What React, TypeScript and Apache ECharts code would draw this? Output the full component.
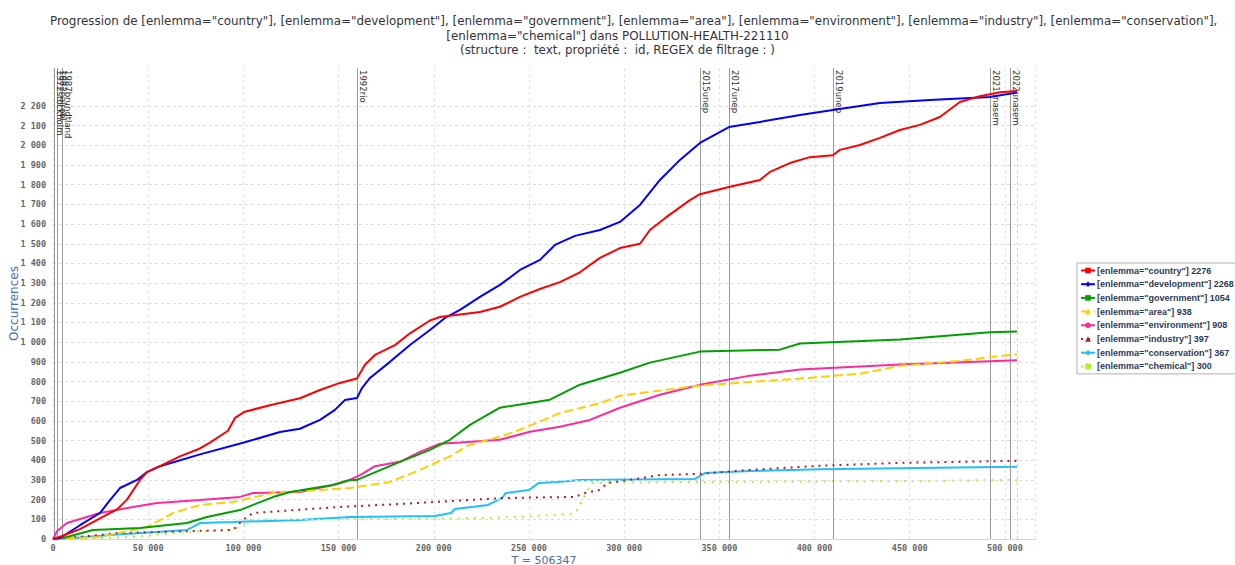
import React, { useEffect, useRef } from 'react';
import * as echarts from 'echarts';

const titleLines = [
  'Progression de [enlemma="country"], [enlemma="development"], [enlemma="government"], [enlemma="area"], [enlemma="environment"], [enlemma="industry"], [enlemma="conservation"],',
  '[enlemma="chemical"] dans POLLUTION-HEALTH-221110',
  '(structure :  text, propriété :  id, REGEX de filtrage : )',
];

const totalT = 506347;

const seriesNames = [
  '[enlemma="country"] 2276',
  '[enlemma="development"] 2268',
  '[enlemma="government"] 1054',
  '[enlemma="area"] 938',
  '[enlemma="environment"] 908',
  '[enlemma="industry"] 397',
  '[enlemma="conservation"] 367',
  '[enlemma="chemical"] 300',
];

const country = [
  [0, 0], [4730, 15], [14180, 50], [24680, 105], [33610, 150], [38860, 200], [45690, 300], [49370, 340],
  [56200, 370], [66700, 420], [77200, 460], [82460, 490], [91910, 550], [95590, 615], [100310, 645],
  [113970, 680], [129720, 715], [140230, 757], [150730, 793], [159660, 815], [163860, 885], [169110, 935],
  [179620, 985], [187500, 1045], [198000, 1110], [203250, 1128], [224260, 1153], [234770, 1180],
  [245270, 1230], [255770, 1270], [266270, 1305], [276780, 1355], [287290, 1428], [297790, 1478],
  [308290, 1500], [313550, 1570], [321420, 1630], [334550, 1722], [339810, 1752], [355570, 1790],
  [371320, 1824], [376570, 1865], [387070, 1910], [397580, 1940], [409660, 1950], [413330, 1977],
  [423840, 2002], [434340, 2038], [444840, 2078], [455350, 2104], [465850, 2144], [476350, 2220],
  [486860, 2250], [497360, 2270], [506347, 2276],
];

const development = [
  [0, 0], [3700, 5], [14180, 70], [24680, 132], [29940, 198], [35190, 259], [44120, 300], [49370, 340],
  [56200, 370], [77200, 430], [100310, 490], [119220, 544], [129720, 560], [140230, 605], [148110, 656],
  [153360, 706], [159660, 716], [162290, 767], [166490, 818], [176990, 900], [187500, 986], [198000, 1062],
  [205880, 1123], [213760, 1164], [224260, 1230], [234770, 1291], [245270, 1367], [255770, 1418],
  [263650, 1494], [274150, 1540], [287290, 1570], [297790, 1611], [308290, 1697], [318800, 1824],
  [329300, 1926], [339810, 2012], [355040, 2093], [371320, 2119], [392330, 2154], [409660, 2180],
  [434340, 2215], [460600, 2231], [492110, 2246], [506347, 2268],
];

const government = [
  [0, 0], [7350, 10], [21010, 46], [45690, 56], [70380, 81], [80880, 112], [98210, 147], [115540, 213],
  [124470, 239], [147060, 274], [155980, 300], [159660, 300], [182240, 392], [198000, 453], [208500, 504],
  [219010, 580], [234770, 667], [261020, 708], [276780, 784], [297790, 845], [313550, 896], [339810, 952],
  [381820, 962], [392330, 993], [444840, 1013], [492110, 1050], [506347, 1054],
];

const area = [
  [0, 0], [24680, 10], [49370, 61], [63020, 132], [77200, 173], [94540, 188], [115540, 234], [155980, 259],
  [176990, 290], [192740, 351], [208500, 420], [219010, 479], [235000, 520], [245270, 555], [266270, 640],
  [287290, 690], [297790, 728], [339810, 780], [392330, 815], [423840, 840], [444840, 880], [476350, 905],
  [497360, 930], [506347, 938],
];

const environment = [
  [0, 0], [2100, 40], [4730, 61], [7350, 81], [24680, 132], [42020, 163], [54620, 183], [77200, 198],
  [98210, 214], [105040, 234], [129720, 239], [147060, 274], [155980, 300], [162290, 330], [169110, 370],
  [182240, 392], [192740, 443], [203250, 484], [213760, 490], [234770, 504], [250520, 545], [266270, 570],
  [282030, 605], [297790, 667], [318800, 733], [339810, 784], [366070, 830], [392330, 861], [423840, 876],
  [444840, 886], [506347, 908],
];

const industry = [
  [0, 0], [24680, 20], [33610, 30], [94540, 46], [99790, 97], [105040, 132], [112390, 137], [150730, 163],
  [182240, 178], [200630, 188], [235820, 208], [274150, 214], [279400, 234], [286760, 249], [291490, 285],
  [306190, 305], [318800, 325], [339810, 331], [366070, 351], [402830, 372], [444840, 387], [506347, 397],
];

const conservation = [
  [0, 0], [7350, 2], [29940, 20], [70380, 46], [77200, 81], [94540, 86], [129720, 97], [155980, 112],
  [200630, 117], [209030, 132], [211130, 152], [228460, 173], [235820, 208], [237920, 234], [249990, 249],
  [255250, 285], [264700, 290], [276780, 300], [337180, 305], [342430, 335], [366070, 345], [402830, 355],
  [506347, 367],
];

const chemical = [
  [0, 0], [24680, 5], [42020, 10], [70380, 36], [94540, 46], [101890, 81], [103460, 97], [155980, 100],
  [211130, 104], [245270, 112], [274150, 130], [283080, 285], [300000, 288], [453770, 295], [506347, 300],
];

const eventNames = [
  '1972stockholm', '1982nairobi', '1987brundtland', '1992rio', '2015unep',
  '2017unep', '2019unep', '2021unasem', '2022unasem',
];
const eventPositions = [500, 2100, 4700, 159660, 339810, 355040, 409660, 492110, 502610];

const yGridTicks = [
  0, 100, 200, 300, 400, 500, 600, 700, 800, 900, 1000, 1100, 1200, 1300, 1400, 1500, 1600,
  1700, 1800, 1900, 2000, 2100, 2200,
];

const seriesData = [country, development, government, area, environment, industry, conservation, chemical];
const colors = ['#ff0000', '#0000ff', '#00a000', '#ffd000', '#ff2a9a', '#b02020', '#1ec0ff', '#a8f030'];
const lineTypes: any[] = ['solid', 'solid', 'solid', [9, 4], 'solid', [2, 5], 'solid', [2, 6]];
const symbols = ['rect', 'diamond', 'rect', 'triangle', 'circle', 'triangle', 'diamond', 'rect'];

const X_MAX = 515800;
const Y_MAX = 2393;

function fmt(v: number) {
  return String(Math.round(v)).replace(/\B(?=(\d{3})+(?!\d))/g, ' ');
}

export default function App() {
  const ref = useRef<HTMLDivElement>(null);
  useEffect(() => {
    if (!ref.current) return;
    const chart = echarts.init(ref.current, undefined, { renderer: 'svg' });
    const lineSeries = seriesData.map((d, i) => ({
      name: seriesNames[i],
      type: 'line',
      data: d,
      showSymbol: false,
      symbol: symbols[i],
      symbolSize: 5,
      itemStyle: { color: colors[i] },
      lineStyle: { color: colors[i], width: 2, type: lineTypes[i] },
      z: 10 - i,
    }));
    const helper = {
      name: 'helper',
      type: 'line',
      data: [],
      silent: true,
      markLine: {
        silent: true,
        symbol: 'none',
        animation: false,
        data: [
          ...yGridTicks.map((v) => ({
            yAxis: v,
            lineStyle: { color: '#dcdcdc', type: [3, 3], width: 1 },
            label: { show: false },
          })),
          [
            { coord: [totalT, Y_MAX], lineStyle: { color: '#cfcfcf', type: [3, 3], width: 1 }, label: { show: false } },
            { coord: [totalT, 0] },
          ],
          ...eventPositions.map((p, i) => [
            {
              coord: [p, Y_MAX],
              name: eventNames[i],
              lineStyle: { color: '#9a9a9a', type: 'solid', width: 1 },
              label: {
                show: true,
                position: 'insideStartTop',
                formatter: eventNames[i],
                fontSize: 8.5,
                fontFamily: 'DejaVu Sans',
                color: '#333',
                distance: 2,
              },
            },
            { coord: [p, 0] },
          ]),
        ],
      },
    };
    const titleTops = [15, 30, 44];
    const titleLefts: any[] = [50, 'center', 'center'];
    chart.setOption({
      animation: false,
      backgroundColor: '#ffffff',
      title: titleLines.map((t, i) => ({
        text: t,
        left: titleLefts[i],
        top: titleTops[i],
        padding: 0,
        textStyle: {
          fontSize: 11.9,
          fontWeight: 'normal',
          fontFamily: 'DejaVu Sans',
          color: '#333340',
        },
      })),
      legend: {
        orient: 'vertical',
        left: 1077,
        top: 263,
        data: seriesNames,
        itemWidth: 14,
        itemHeight: 7,
        itemGap: 4.7,
        padding: [3, 3, 3, 3],
        borderColor: '#b0b0b0',
        borderWidth: 1,
        selectedMode: false,
        textStyle: { fontSize: 9, fontWeight: 'bold', fontFamily: 'Liberation Sans', color: '#2c3a58', padding: [0, 0, 0, -3] },
      },
      grid: { left: 53, top: 68, width: 982, bottom: 26, containLabel: false, outerBoundsMode: 'none' },
      xAxis: {
        type: 'value',
        min: 0,
        max: X_MAX,
        interval: 50000,
        name: 'T = ' + totalT,
        nameLocation: 'middle',
        nameGap: 15.5,
        nameMoveOverlap: false,
        nameTextStyle: { color: '#4a6ea8', fontSize: 11, fontFamily: 'DejaVu Sans' },
        axisLine: { show: true, lineStyle: { color: '#c8d0dc' } },
        axisTick: { show: false },
        axisLabel: {
          formatter: (v: number) => (v > 505000 ? '' : fmt(v)),
          fontSize: 8.5,
          fontWeight: 'bold',
          fontFamily: 'DejaVu Sans Mono',
          color: '#666',
          margin: 4,
        },
        splitLine: { show: true, lineStyle: { color: '#e2e2e2', type: [3, 3] } },
      },
      yAxis: {
        type: 'value',
        min: 0,
        max: Y_MAX,
        interval: 100,
        name: 'Occurrences',
        nameLocation: 'middle',
        nameGap: 33,
        nameMoveOverlap: false,
        nameTextStyle: { color: '#4a6ea8', fontSize: 12, fontFamily: 'DejaVu Sans' },
        axisLine: { show: false },
        axisTick: { show: false },
        axisLabel: {
          formatter: (v: number) => (v > 2200 ? '' : fmt(v)),
          fontSize: 8.5,
          fontWeight: 'bold',
          fontFamily: 'DejaVu Sans Mono',
          color: '#666',
          margin: 7,
        },
        splitLine: { show: false },
      },
      series: [helper, ...lineSeries],
    });
    return () => chart.dispose();
  }, []);
  return <div ref={ref} style={{ position: 'fixed', left: 0, top: 0, width: 1235, height: 565 }} />;
}
